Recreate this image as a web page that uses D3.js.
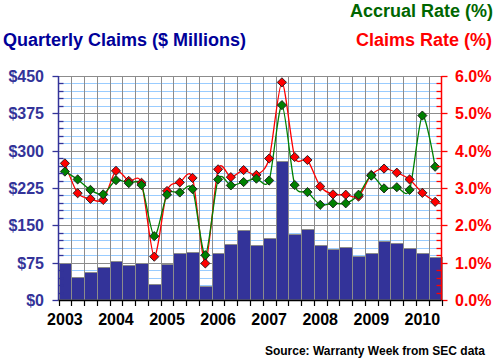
<!DOCTYPE html>
<html>
<head>
<meta charset="utf-8">
<script src="https://cdn.jsdelivr.net/npm/d3@7"></script>
<style>
  html, body { margin: 0; padding: 0; background: #ffffff; }
  svg { display: block; }
  text { font-family: "Liberation Sans", Arial, sans-serif; font-weight: bold; }
</style>
</head>
<body>
<svg id="chart" width="497" height="362"></svg>
<script>
// ---- Data ----
const quarters = [
  "2003Q1","2003Q2","2003Q3","2003Q4",
  "2004Q1","2004Q2","2004Q3","2004Q4",
  "2005Q1","2005Q2","2005Q3","2005Q4",
  "2006Q1","2006Q2","2006Q3","2006Q4",
  "2007Q1","2007Q2","2007Q3","2007Q4",
  "2008Q1","2008Q2","2008Q3","2008Q4",
  "2009Q1","2009Q2","2009Q3","2009Q4",
  "2010Q1","2010Q2"
];
const claims = [
  74, 46, 56, 66, 78, 70, 74, 32,
  72, 94, 96, 29, 94, 112, 140, 110,
  124, 279, 133, 142, 110, 102, 106, 88,
  94, 118, 114, 104, 94, 86
];
const claimsRate = [
  3.66, 2.86, 2.71, 2.68, 3.46, 3.19, 3.14, 1.16,
  2.92, 3.15, 3.27, 0.98, 3.50, 3.29, 3.48, 3.35,
  3.79, 5.83, 3.83, 3.75, 3.04, 2.83, 2.82, 2.77,
  3.35, 3.52, 3.41, 3.23, 2.87, 2.63
];
const accrualRate = [
  3.44, 3.23, 2.95, 2.83, 3.21, 3.13, 3.08, 1.71,
  2.82, 2.88, 2.97, 1.20, 3.23, 3.07, 3.16, 3.25,
  3.20, 5.22, 3.08, 2.89, 2.55, 2.59, 2.59, 2.82,
  3.33, 2.99, 3.02, 2.95, 4.94, 3.57
];
const yearLabels = ["2003","2004","2005","2006","2007","2008","2009","2010"];
const leftTicks = [0, 75, 150, 225, 300, 375, 450];
const rightTicks = [0, 1, 2, 3, 4, 5, 6];

// ---- Layout ----
const svg = d3.select("#chart");
const L = 58.5, R = 441.5, T = 76, B = 300;

const x = d3.scaleBand().domain(quarters).range([L, R]).padding(0);
const yL = d3.scaleLinear().domain([0, 450]).range([B, T]);
const yR = d3.scaleLinear().domain([0, 6]).range([B, T]);

const minorVals = d3.range(0, 451, 15);

// minor horizontal gridlines (light blue)
svg.append("g").selectAll("line").data(minorVals.filter(v => v % 75 !== 0)).join("line")
  .attr("x1", L).attr("x2", R)
  .attr("y1", d => Math.round(yL(d)) + 0.5).attr("y2", d => Math.round(yL(d)) + 0.5)
  .attr("stroke", "#99ccff").attr("stroke-width", 1);
// major horizontal gridlines (gray)
svg.append("g").selectAll("line").data(leftTicks.filter(v => v > 0)).join("line")
  .attr("x1", L).attr("x2", R)
  .attr("y1", d => Math.round(yL(d)) + 0.5).attr("y2", d => Math.round(yL(d)) + 0.5)
  .attr("stroke", "#8c8c8c").attr("stroke-width", 1);
// vertical gridlines (gray) at each quarter boundary
svg.append("g").selectAll("line").data(quarters.slice(1)).join("line")
  .attr("x1", d => Math.round(x(d)) + 0.5).attr("x2", d => Math.round(x(d)) + 0.5)
  .attr("y1", T).attr("y2", B)
  .attr("stroke", "#8c8c8c").attr("stroke-width", 1);

// bars
svg.append("g").selectAll("rect").data(claims).join("rect")
  .attr("x", (d, i) => Math.round(x(quarters[i])) + 0.5)
  .attr("width", (d, i) => Math.round(x(quarters[i]) + x.bandwidth()) - Math.round(x(quarters[i])))
  .attr("y", d => Math.round(yL(d)) + 0.5)
  .attr("height", d => B - Math.round(yL(d)) - 0.5)
  .attr("fill", "#333399")
  .attr("stroke", "#8c8c8c").attr("stroke-width", 1);

// lines
const cx = i => x(quarters[i]) + x.bandwidth() / 2;
const lineGen = d3.line().x((d, i) => cx(i)).y(d => yR(d)).curve(d3.curveCardinal.tension(0.2));

function series(vals, color) {
  svg.append("path").datum(vals).attr("d", lineGen)
    .attr("fill", "none").attr("stroke", color).attr("stroke-width", 1.3);
}
function markers(vals, color) {
  const r = 4.6;
  svg.append("g").selectAll("path").data(vals).join("path")
    .attr("d", (d, i) => {
      const px = cx(i), py = yR(d);
      return `M${px},${py - r}L${px + r},${py}L${px},${py + r}L${px - r},${py}Z`;
    })
    .attr("fill", color).attr("stroke", "#1a1a1a").attr("stroke-width", 0.9);
}
series(claimsRate, "#ff0000");
series(accrualRate, "#008000");
markers(claimsRate, "#ff0000");
markers(accrualRate, "#008000");

// ---- Axes ----
// left axis
const gl = svg.append("g");
gl.append("line").attr("x1", L).attr("x2", L).attr("y1", T).attr("y2", B)
  .attr("stroke", "#333399").attr("stroke-width", 1.5);
gl.selectAll("line.maj").data(leftTicks).join("line").attr("class", "maj")
  .attr("x1", L - 6).attr("x2", L)
  .attr("y1", d => Math.round(yL(d)) + 0.5).attr("y2", d => Math.round(yL(d)) + 0.5)
  .attr("stroke", "#333399").attr("stroke-width", 1.3);
gl.selectAll("line.min").data(minorVals.filter(v => v % 75 !== 0)).join("line").attr("class", "min")
  .attr("x1", L).attr("x2", L + 5)
  .attr("y1", d => Math.round(yL(d)) + 0.5).attr("y2", d => Math.round(yL(d)) + 0.5)
  .attr("stroke", "#333399").attr("stroke-width", 1.3);
gl.selectAll("text").data(leftTicks).join("text")
  .attr("x", 44).attr("y", d => yL(d) + 6)
  .attr("text-anchor", "end").attr("font-size", 16).attr("fill", "#333399")
  .text(d => "$" + d);

// right axis
const gr = svg.append("g");
gr.append("line").attr("x1", R).attr("x2", R).attr("y1", T).attr("y2", B)
  .attr("stroke", "#ff0000").attr("stroke-width", 1.5);
gr.selectAll("line.maj").data(rightTicks).join("line").attr("class", "maj")
  .attr("x1", R).attr("x2", R + 6)
  .attr("y1", d => Math.round(yR(d)) + 0.5).attr("y2", d => Math.round(yR(d)) + 0.5)
  .attr("stroke", "#ff0000").attr("stroke-width", 1.3);
gr.selectAll("line.min").data(d3.range(0, 6.01, 0.2).filter(v => Math.abs(v - Math.round(v)) > 0.01)).join("line").attr("class", "min")
  .attr("x1", R - 5).attr("x2", R)
  .attr("y1", d => Math.round(yR(d)) + 0.5).attr("y2", d => Math.round(yR(d)) + 0.5)
  .attr("stroke", "#ff0000").attr("stroke-width", 1.3);
gr.selectAll("text").data(rightTicks).join("text")
  .attr("x", 455).attr("y", d => yR(d) + 6)
  .attr("text-anchor", "start").attr("font-size", 16).attr("fill", "#ff0000")
  .text(d => d.toFixed(1) + "%");

// bottom axis
const gb = svg.append("g");
gb.append("line").attr("x1", L).attr("x2", R).attr("y1", B + 0.5).attr("y2", B + 0.5)
  .attr("stroke", "#000").attr("stroke-width", 1.3);
gb.selectAll("line.t").data(quarters.concat(["end"])).join("line").attr("class", "t")
  .attr("x1", (d, i) => Math.round(i < quarters.length ? x(d) : R) + 0.5)
  .attr("x2", (d, i) => Math.round(i < quarters.length ? x(d) : R) + 0.5)
  .attr("y1", B).attr("y2", B + 6)
  .attr("stroke", "#000").attr("stroke-width", 1.2);
gb.selectAll("text").data(yearLabels).join("text")
  .attr("x", d => x(d + "Q1") + x.bandwidth() / 2)
  .attr("y", 325)
  .attr("text-anchor", "middle").attr("font-size", 16).attr("fill", "#000")
  .text(d => d);

// ---- Titles ----
svg.append("text").attr("x", 3).attr("y", 46).attr("font-size", 18)
  .attr("fill", "#000099").text("Quarterly Claims ($ Millions)");
svg.append("text").attr("x", 493).attr("y", 17).attr("font-size", 18)
  .attr("text-anchor", "end").attr("fill", "#006600").text("Accrual Rate (%)");
svg.append("text").attr("x", 492).attr("y", 46).attr("font-size", 18)
  .attr("text-anchor", "end").attr("fill", "#ff0000").text("Claims Rate (%)");
svg.append("text").attr("x", 485).attr("y", 355).attr("font-size", 12)
  .attr("text-anchor", "end").attr("fill", "#000").text("Source: Warranty Week from SEC data");
</script>
</body>
</html>
